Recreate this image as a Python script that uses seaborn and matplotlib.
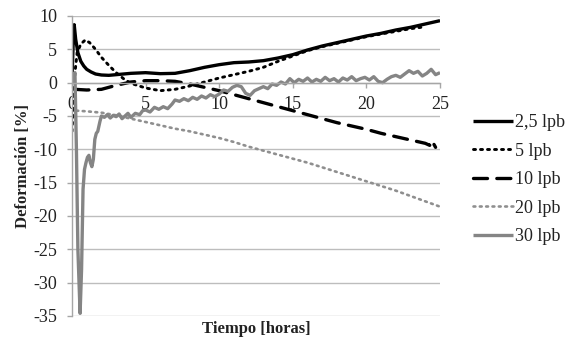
import matplotlib
matplotlib.use("Agg")
import matplotlib.pyplot as plt
import seaborn as sns
import pandas as pd

# ---------------- data ----------------
labels = ["2,5 lpb", "5 lpb", "10 lpb", "20 lpb", "30 lpb"]

x_25 = [0.0, 0.08, 0.15, 0.25, 0.4, 0.6, 0.8, 1.0, 1.3, 1.6, 2.0, 2.5, 3, 3.5, 4, 5, 6, 7, 8, 9,
        10, 11, 12, 13, 14, 15, 16, 17, 18, 19, 20, 21, 22, 23, 24, 25]
y_25 = [0.5, 6.0, 8.7, 6.5, 4.5, 3.2, 2.5, 2.0, 1.6, 1.3, 1.15, 1.1, 1.2, 1.3, 1.4, 1.5, 1.35, 1.4, 1.8, 2.3,
        2.7, 3.0, 3.1, 3.3, 3.7, 4.2, 4.9, 5.5, 6.0, 6.5, 7.0, 7.4, 7.9, 8.3, 8.8, 9.3]

x_5 = [0.0, 0.1, 0.2, 0.35, 0.6, 0.9, 1.2, 1.6, 2.0, 2.5, 3, 3.5, 4, 5, 6, 7, 8, 9, 10, 11, 12,
       13, 14, 15, 16, 17, 18, 19, 20, 21, 22, 23, 23.7]
y_5 = [-7.3, -3.0, 1.5, 4.5, 5.8, 6.4, 6.0, 5.0, 3.8, 2.6, 1.5, 0.6, -0.1, -0.8, -1.2, -1.0, -0.5, 0.1, 0.7,
       1.2, 1.7, 2.3, 3.2, 4.0, 4.8, 5.4, 5.9, 6.4, 6.9, 7.3, 7.7, 8.1, 8.3]

x_10 = [0.2, 1, 2, 3, 4, 5, 6, 7, 8, 9, 10, 11, 12, 13, 14, 15, 16, 17, 18, 19, 20, 21, 22, 23, 24,
        24.3, 24.45, 24.7]
y_10 = [-1.0, -1.1, -1.0, -0.4, 0.1, 0.3, 0.3, 0.2, -0.2, -0.7, -1.2, -1.8, -2.4, -3.0, -3.6, -4.2, -4.8,
        -5.4, -6.0, -6.5, -7.0, -7.6, -8.1, -8.6, -9.1, -9.4, -8.7, -9.7]

x_20 = [0.3, 1, 2, 3, 4, 5, 6, 7, 8, 9, 10, 11, 12, 13, 14, 15, 16, 17, 18, 19, 20, 21, 22, 23, 24, 25]
y_20 = [-4.2, -4.3, -4.5, -4.9, -5.4, -5.9, -6.4, -6.9, -7.3, -7.8, -8.3, -8.9, -9.6, -10.2, -10.8,
        -11.4, -12.0, -12.7, -13.4, -14.1, -14.8, -15.5, -16.2, -17.0, -17.8, -18.6]

x_30 = [0.0, 0.1, 0.2, 0.3, 0.4, 0.55, 0.65, 0.75, 0.85, 0.95, 1.05, 1.15, 1.25, 1.35, 1.45, 1.55,
        1.65, 1.75, 1.9, 2.0, 2.2, 2.4, 2.6, 2.8, 3.0, 3.2, 3.4, 3.6, 3.8, 4.0, 4.3, 4.6, 4.8, 5.0,
        5.3, 5.6, 5.9, 6.2, 6.5, 6.8, 7.0, 7.3, 7.6, 7.9, 8.2, 8.5, 8.8, 9.1, 9.4, 9.7, 10.0, 10.3,
        10.6, 10.9, 11.2, 11.5, 11.8, 12.1, 12.4, 12.7, 13.0, 13.3, 13.6, 13.9, 14.2, 14.5, 14.8,
        15.1, 15.4, 15.7, 16.0, 16.3, 16.6, 16.9, 17.2, 17.5, 17.8, 18.1, 18.4, 18.7, 19.0, 19.3,
        19.6, 19.9, 20.2, 20.5, 20.8, 21.1, 21.4, 21.7, 22.0, 22.3, 22.6, 22.9, 23.2, 23.5, 23.8,
        24.1, 24.4, 24.7, 25.0]
y_30 = [0.0, 1.0, 1.5, -10.0, -25.0, -34.6, -28.0, -16.0, -13.0, -12.0, -11.2, -10.9, -12.0, -12.6,
        -11.5, -8.5, -7.6, -7.3, -5.8, -5.0, -5.2, -4.8, -5.3, -4.9, -5.1, -4.7, -5.4, -5.0, -4.6,
        -5.2, -4.6, -4.8, -4.2, -4.1, -4.4, -3.7, -4.0, -3.6, -3.9, -3.2, -2.6, -2.8, -2.4, -2.7,
        -2.2, -2.5, -2.0, -2.3, -1.8, -2.1, -1.7, -1.1, -1.3, -0.7, -0.4, -0.6, -1.6, -1.9, -1.2,
        -0.9, -0.6, -0.9, -0.2, -0.4, 0.1, -0.2, 0.6, 0.0, 0.5, 0.2, 0.7, 0.1, 0.5, 0.2, 0.8, 0.3,
        0.6, 0.1, 0.7, 0.4, 0.9, 0.3, 0.6, 0.8, 0.4, 0.9, 0.2, 0.0, 0.5, 0.9, 1.1, 0.8, 1.3, 1.8,
        1.4, 1.7, 1.0, 1.4, 2.0, 1.2, 1.5]

xticks = [0, 5, 10, 15, 20, 25]
yticks = [10, 5, 0, -5, -10, -15, -20, -25, -30, -35]

# ---------------- style ----------------
sns.set_style("white")
plt.rcParams["font.family"] = ["Liberation Serif", "DejaVu Serif"]

fig = plt.figure(figsize=(5.72, 3.38), dpi=100)
ax = fig.add_axes([72 / 572, 22 / 338, 368 / 572, 300 / 338])

series = [
    (x_25, y_25, dict(color="black", linewidth=2.4, linestyle="-")),
    (x_5, y_5, dict(color="black", linewidth=2.1, linestyle=(0, (0.7, 1.7)))),
    (x_10, y_10, dict(color="black", linewidth=2.4, linestyle=(0, (4.2, 2.8)))),
    (x_20, y_20, dict(color="#8f8f8f", linewidth=1.9, linestyle=(0, (0.7, 1.7)))),
    (x_30, y_30, dict(color="#858585", linewidth=2.4, linestyle="-")),
]

for (xs, ys, st), lab in zip(series, labels):
    df = pd.DataFrame({"t": xs, "d": ys})
    sns.lineplot(data=df, x="t", y="d", ax=ax, label=lab, estimator=None, sort=False, **st)

for ln in ax.get_lines():
    ln.set_dash_capstyle("round")
    ln.set_solid_capstyle("butt")

ax.set_xlim(0, 25)
ax.set_ylim(-35, 10)
ax.set_xticks(xticks)
ax.set_yticks(yticks)
ax.set_xticklabels([str(v) for v in xticks])
ax.set_yticklabels([str(v) for v in yticks])

ax.grid(axis="y", color="#bdbdbd", linewidth=1.0)
ax.grid(axis="x", visible=False)
ax.set_axisbelow(True)

for s in ["top", "right"]:
    ax.spines[s].set_visible(False)
ax.spines["bottom"].set_position(("data", 0))
ax.spines["bottom"].set_color("#a6a6a6")
ax.spines["bottom"].set_linewidth(1.0)
ax.spines["left"].set_color("#a6a6a6")
ax.spines["left"].set_linewidth(1.0)

ax.tick_params(axis="x", bottom=True, direction="out", length=3.6, width=1.0, color="#a6a6a6",
               pad=6, labelsize=13, labelcolor="#222222")
ax.tick_params(axis="y", left=True, direction="out", length=3.6, width=1.0, color="#a6a6a6",
               pad=7, labelsize=13, labelcolor="#222222")

ax.set_xlabel("Tiempo [horas]", fontsize=12, fontweight="bold", color="#222222")
ax.xaxis.set_label_coords(0.5, -0.016)
ax.set_ylabel("Deformación [%]", fontsize=12, fontweight="bold", color="#222222")
ax.yaxis.set_label_coords(-0.112, 0.5)

handles, labs = ax.get_legend_handles_labels()
ax.get_legend().remove()
fig.legend(handles, labs, loc="upper left", bbox_to_anchor=(473 / 572, 1 - 114 / 338),
           frameon=False, fontsize=13, handlelength=2.2, handletextpad=0.1,
           labelspacing=0.64, borderpad=0, borderaxespad=0, labelcolor="#222222")

fig.savefig("out.png", dpi=100)
